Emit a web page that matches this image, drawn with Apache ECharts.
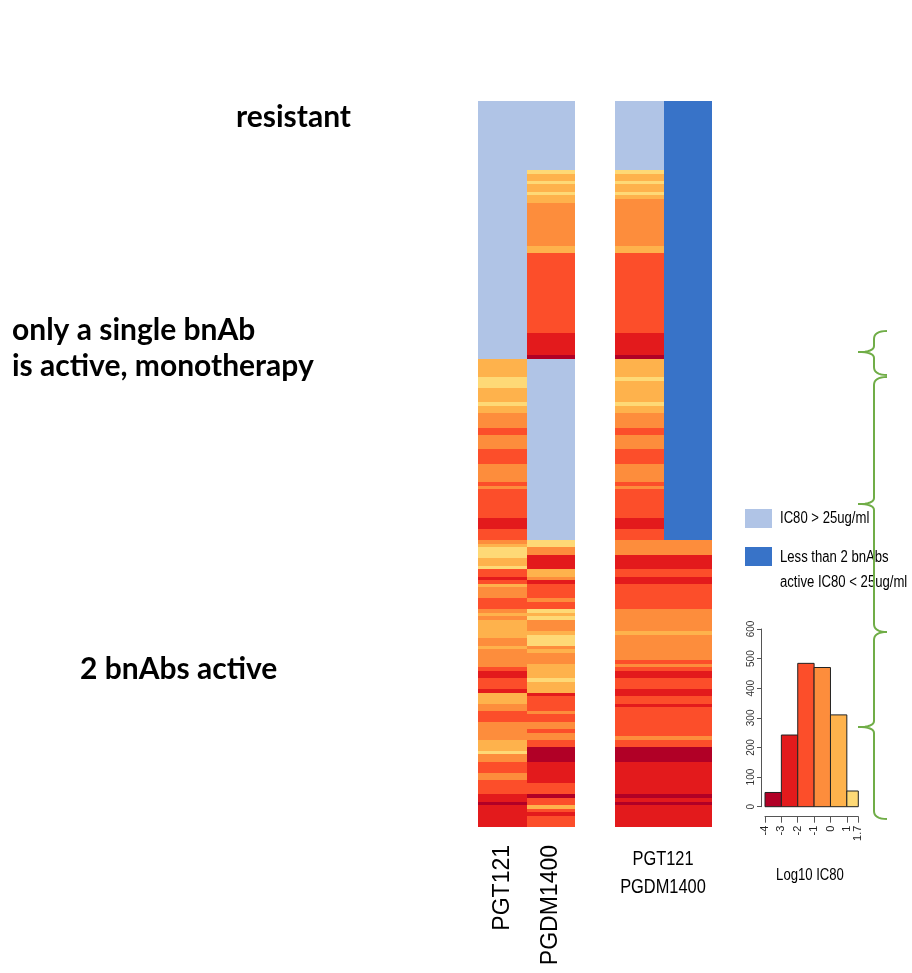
<!DOCTYPE html>
<html>
<head>
<meta charset="utf-8">
<script src="https://cdn.jsdelivr.net/npm/echarts@6/dist/echarts.min.js"></script>
<style>
  html, body { margin: 0; padding: 0; background: #fff; }
  #chart { width: 912px; height: 973px; }
</style>
</head>
<body>
<div id="chart"></div>
<script>
// codes: 0..5 = log10 IC80 bin (most potent -> least), 6 = IC80 > 25ug/ml, 7 = less than 2 bnAbs active
const RES = 6, LOW = 7
const codeColors = ['#B10026', '#E31A1C', '#FC4E2A', '#FD8D3C', '#FEB24C', '#FED976', '#B0C4E6', '#3873C8']

// runs of [code, number of viruses], top to bottom, 200 viruses
const pgt121 = [[RES,71],[4,5],[5,3],[4,4],[5,1],[4,2],[3,4],[2,2],[3,4],[2,4],[3,5],[2,1],[3,1],[2,8],[1,3],[2,3],
  [3,1],[4,1],[5,3],[4,2],[5,1],[2,2],[1,1],[2,1],[4,1],[3,3],[2,3],[3,1],[4,1],[3,1],[4,5],[3,2],[4,1],[3,5],[2,1],
  [1,2],[2,3],[1,1],[4,3],[3,2],[2,3],[3,5],[4,3],[5,1],[3,2],[2,3],[3,2],[2,4],[1,2],[0,1],[1,6]]
const pgdm1400 = [[RES,19],[5,1],[4,2],[5,1],[4,2],[5,1],[4,2],[3,12],[4,2],[2,22],[1,6],[0,1],[RES,50],
  [5,2],[3,2],[1,4],[4,2],[3,1],[1,1],[2,4],[3,1],[2,2],[5,1],[4,1],[5,1],[3,3],[4,1],[5,3],[3,1],[4,1],[3,3],[4,4],
  [5,1],[4,3],[1,1],[2,4],[3,1],[2,2],[3,2],[2,1],[3,2],[2,2],[0,4],[1,6],[2,3],[0,1],[2,2],[4,1],[2,1],[1,1],[2,3]]
const combined = [[RES,19],[5,1],[4,2],[5,1],[4,2],[5,1],[4,1],[3,13],[4,2],[2,22],[1,6],[0,1],
  [4,5],[5,1],[4,6],[5,1],[4,2],[3,4],[2,2],[3,4],[2,4],[3,5],[2,1],[3,1],[2,8],[1,3],[2,3],
  [3,4],[1,4],[2,2],[1,2],[2,7],[3,6],[4,1],[3,7],[2,1],[3,1],[2,1],[1,2],[2,3],[1,2],[2,2],[1,1],[2,8],[3,1],[2,2],
  [0,4],[1,9],[0,1],[1,1],[0,1],[1,6]]
const bothActive = [[LOW,121],
  [3,4],[1,4],[2,2],[1,2],[2,7],[3,6],[4,1],[3,7],[2,1],[3,1],[2,1],[1,2],[2,3],[1,2],[2,2],[1,1],[2,8],[3,1],[2,2],
  [0,4],[1,9],[0,1],[1,1],[0,1],[1,6]]

const virusCount = 200
const columns = ['PGT121', 'PGDM1400']

// histogram of log10 IC80
const histEdges = [-4, -3, -2, -1, 0, 1, 1.7]
const histCounts = [48, 242, 484, 470, 310, 53]

function toStrips(runs, col) {
  let start = 0
  return runs.map(([code, n]) => {
    const item = [col, start, start + n, code]
    start += n
    return item
  })
}

function renderStrip(params, api) {
  const col = api.value(0)
  const a = api.coord([col, api.value(1)])
  const b = api.coord([col, api.value(2)])
  const w = api.size([1, 0])[0]
  const x0 = Math.round(a[0] - w / 2), x1 = Math.round(a[0] + w / 2)
  const y0 = Math.round(a[1]), y1 = Math.round(b[1])
  return {
    type: 'rect',
    shape: { x: x0, y: y0, width: x1 - x0, height: y1 - y0 },
    style: { fill: codeColors[api.value(3)] }
  }
}

function renderBin(params, api) {
  const p0 = api.coord([api.value(0), api.value(2)])
  const p1 = api.coord([api.value(1), 0])
  return {
    type: 'rect',
    shape: { x: p0[0], y: p0[1], width: p1[0] - p0[0], height: p1[1] - p0[1] },
    style: { fill: codeColors[params.dataIndex], stroke: '#222', lineWidth: 1 }
  }
}

// curly brace "{" drawn as a polyline (annotation)
function quad(p0, c, p1, out) {
  for (let i = 1; i <= 8; i++) {
    const t = i / 8, u = 1 - t
    out.push([u * u * p0[0] + 2 * u * t * c[0] + t * t * p1[0], u * u * p0[1] + 2 * u * t * c[1] + t * t * p1[1]])
  }
}
function brace(top, mid, bottom) {
  const xr = 887, xl = 874, xt = 858
  const pts = [[xr, top]]
  quad([xr, top], [xl, top], [xl, top + 8], pts)
  pts.push([xl, mid - 6])
  quad([xl, mid - 6], [xl, mid], [xt, mid], pts)
  quad([xt, mid], [xl, mid], [xl, mid + 6], pts)
  pts.push([xl, bottom - 8])
  quad([xl, bottom - 8], [xl, bottom], [xr, bottom], pts)
  return { type: 'polyline', shape: { points: pts }, style: { stroke: '#70AD47', lineWidth: 2, fill: null }, z: 10 }
}

// narrow (Arial Narrow look) text
function narrowText(x, y, text, size, align) {
  return {
    type: 'text', x: x, y: y, scaleX: 0.82,
    style: { text: text, font: size + 'px Liberation Sans, Arial, sans-serif', fill: '#000', verticalAlign: 'middle', align: align || 'left' }
  }
}
function boldText(x, y, text) {
  return { type: 'text', x: x, y: y, style: { text: text, font: 'bold 30px Lato, Open Sans, sans-serif', fill: '#000', verticalAlign: 'middle' } }
}

const chart = echarts.init(document.getElementById('chart'))
const sans = 'Liberation Sans, Arial, sans-serif'
const hiddenY = { type: 'value', min: 0, max: virusCount, inverse: true, show: false }

chart.setOption({
  animation: false,
  grid: [
    { left: 478, top: 101, width: 97, height: 726, outerBoundsMode: 'none' },
    { left: 615, top: 101, width: 97, height: 726, outerBoundsMode: 'none' },
    { left: 765, top: 629, width: 93.3, height: 177.7, outerBoundsMode: 'none' }
  ],
  xAxis: [
    {
      type: 'category', gridIndex: 0, data: columns,
      axisLine: { show: false }, axisTick: { show: false },
      axisLabel: { rotate: 90, margin: 18, fontSize: 23, color: '#000', fontFamily: sans }
    },
    {
      type: 'category', gridIndex: 1, data: columns,
      axisLine: { show: false }, axisTick: { show: false }, axisLabel: { show: false }
    },
    {
      type: 'value', gridIndex: 2, min: -4, max: 1.7, interval: 1, offset: 10, position: 'bottom',
      splitLine: { show: false },
      axisLine: { onZero: false, lineStyle: { color: '#555', width: 1 } },
      axisTick: { length: 6, lineStyle: { color: '#555' } },
      axisLabel: { rotate: 90, margin: 9, fontSize: 11, color: '#222', fontFamily: sans, showMinLabel: true, showMaxLabel: true }
    }
  ],
  yAxis: [
    Object.assign({ gridIndex: 0 }, hiddenY),
    Object.assign({ gridIndex: 1 }, hiddenY),
    {
      type: 'value', gridIndex: 2, min: 0, max: 600, interval: 100, offset: 4, position: 'left',
      splitLine: { show: false },
      axisLine: { show: true, onZero: false, lineStyle: { color: '#555', width: 1 } },
      axisTick: { show: true, length: 4, lineStyle: { color: '#555' } },
      axisLabel: { rotate: 90, margin: 5, fontSize: 10, color: '#333', fontFamily: sans }
    }
  ],
  series: [
    {
      type: 'custom', xAxisIndex: 0, yAxisIndex: 0, renderItem: renderStrip,
      data: toStrips(pgt121, 0).concat(toStrips(pgdm1400, 1))
    },
    {
      type: 'custom', xAxisIndex: 1, yAxisIndex: 1, renderItem: renderStrip,
      data: toStrips(combined, 0).concat(toStrips(bothActive, 1))
    },
    {
      type: 'custom', xAxisIndex: 2, yAxisIndex: 2, renderItem: renderBin,
      data: histCounts.map((c, i) => [histEdges[i], histEdges[i + 1], c])
    }
  ],
  graphic: [
    boldText(236, 117, 'resistant'),
    boldText(12, 330, 'only a single bnAb'),
    boldText(12, 366, 'is active, monotherapy'),
    boldText(80, 669, '2 bnAbs active'),

    narrowText(663, 859, 'PGT121', 20, 'center'),
    narrowText(663, 887, 'PGDM1400', 20, 'center'),
    narrowText(810, 876, 'Log10 IC80', 16, 'center'),

    { type: 'rect', shape: { x: 745, y: 509, width: 27, height: 19 }, style: { fill: codeColors[RES] } },
    { type: 'rect', shape: { x: 745, y: 547, width: 27, height: 19 }, style: { fill: codeColors[LOW] } },
    narrowText(780, 519, 'IC80 > 25ug/ml', 16),
    narrowText(780, 558, 'Less than 2 bnAbs', 16),
    narrowText(780, 583, 'active IC80 < 25ug/ml', 16),

    brace(331, 352, 375),
    brace(377, 504, 632),
    brace(632, 727, 819)
  ]
})
</script>
</body>
</html>
